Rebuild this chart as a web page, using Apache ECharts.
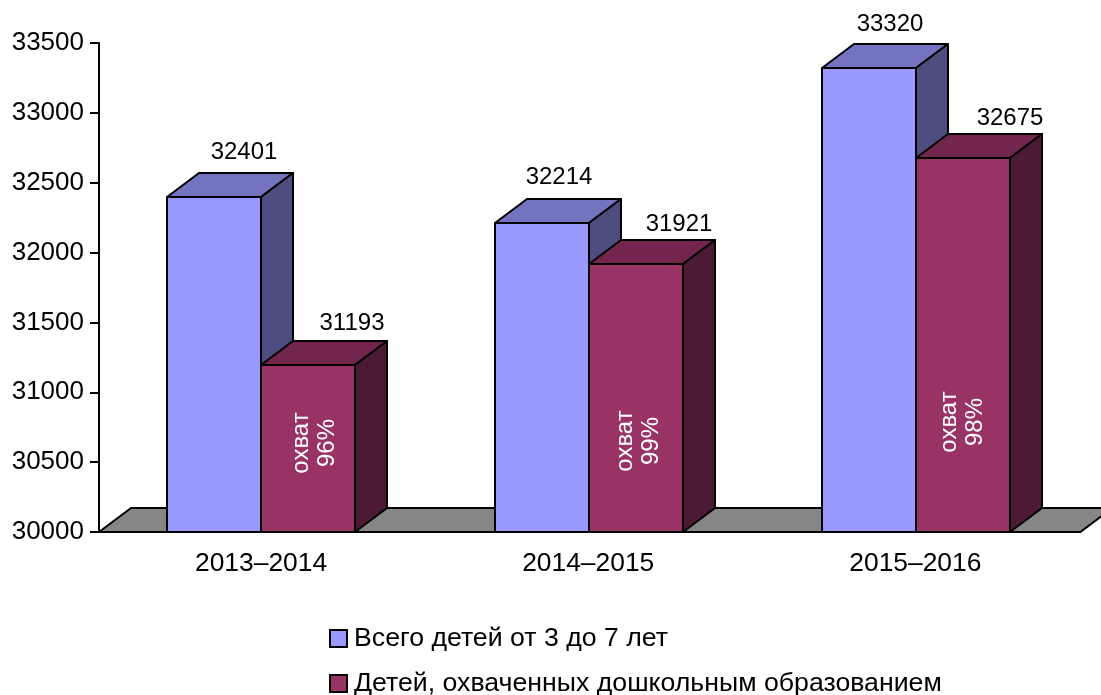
<!DOCTYPE html>
<html>
<head>
<meta charset="utf-8">
<style>
  html, body { margin: 0; padding: 0; background: #fff; }
  #chart { width: 1101px; height: 695px; }
</style>
<script src="https://cdn.jsdelivr.net/npm/echarts@6/dist/echarts.min.js"></script>
</head>
<body>
<div id="chart"></div>
<script>
const categories = ['2013–2014', '2014–2015', '2015–2016']
const seriesNames = ['Всего детей от 3 до 7 лет', 'Детей, охваченных дошкольным образованием']
const totalChildren = [32401, 32214, 33320]
const coveredChildren = [31193, 31921, 32675]
const coverageLabels = ['96%', '99%', '98%']
const yTicks = { min: 30000, max: 33500, interval: 500 }

// box look
const DEPTH_X = 32
const DEPTH_Y = 24
const BAR_W = 94
const FONT = '"Liberation Sans", Arial, sans-serif'

// hand-placed labels, the same way they sit on the original
const totalLabelShift = [[30, -21], [17, -22], [21, -20]]
const coveredLabelShift = [[44, -18], [43, -16], [47, -16]]
const coverageShift = [[6, -89], [2, -91], [-1, -110]]

function poly(points, fill) {
  return {
    type: 'polygon',
    shape: { points },
    style: { fill, stroke: '#000', lineWidth: 2, lineJoin: 'round' }
  }
}

function box(left, top, bottom, colors) {
  const right = left + BAR_W
  return [
    poly([[left, top], [right, top], [right, bottom], [left, bottom]], colors.front),
    poly([[left, top], [left + DEPTH_X, top - DEPTH_Y], [right + DEPTH_X, top - DEPTH_Y], [right, top]], colors.top),
    poly([[right, top], [right + DEPTH_X, top - DEPTH_Y], [right + DEPTH_X, bottom - DEPTH_Y], [right, bottom]], colors.side)
  ]
}

function barSeries(name, values, colors, side, labelShift, inner) {
  return {
    name,
    type: 'custom',
    coordinateSystem: 'cartesian2d',
    itemStyle: { color: colors.front },
    encode: { x: 0, y: 1 },
    data: values.map((v, i) => [i, v]),
    z: 3 + side,
    clip: false,
    renderItem(params, api) {
      const i = api.value(0)
      const val = api.value(1)
      const topPt = api.coord([i, val])
      const basePt = api.coord([i, yTicks.min])
      const left = Math.round(topPt[0] - 95.15) + side * BAR_W
      const children = box(left, Math.round(topPt[1]), Math.round(basePt[1]), colors)
      const shift = labelShift[i]
      children.push({
        type: 'text',
        x: left + BAR_W / 2 + shift[0],
        y: Math.round(topPt[1]) - DEPTH_Y + shift[1],
        style: { text: String(val), fill: '#000', font: '24px ' + FONT, align: 'center', verticalAlign: 'middle' }
      })
      if (inner) {
        const s = coverageShift[i]
        children.push({
          type: 'text',
          x: left + BAR_W / 2 + s[0],
          y: Math.round(basePt[1]) + s[1],
          rotation: Math.PI / 2,
          style: {
            text: 'охват\n' + inner[i],
            fill: '#fff',
            font: '24px ' + FONT,
            lineHeight: 26,
            align: 'center',
            verticalAlign: 'middle'
          }
        })
      }
      return { type: 'group', children }
    }
  }
}

function legendRow(name, top) {
  return {
    orient: 'vertical',
    left: 324,
    top,
    itemWidth: 17,
    itemHeight: 17,
    icon: 'rect',
    selectedMode: false,
    itemStyle: { borderColor: '#000', borderWidth: 2 },
    textStyle: { color: '#000', fontSize: 26.7, fontFamily: FONT, padding: [0, 0, 0, 2] },
    data: [name]
  }
}

const myChart = echarts.init(document.getElementById('chart'))
const option = {
  animation: false,
  backgroundColor: '#fff',
  grid: { left: 99, right: 20.6, top: 43, bottom: 163 },
  legend: [legendRow(seriesNames[0], 620), legendRow(seriesNames[1], 665)],
  xAxis: {
    type: 'category',
    data: categories,
    axisLine: { lineStyle: { color: '#000', width: 2 } },
    axisTick: { length: 9, lineStyle: { color: '#000', width: 2 } },
    axisLabel: { color: '#000', fontSize: 26.4, fontFamily: FONT, margin: 19, padding: [0, 3, 0, 0] }
  },
  yAxis: {
    type: 'value',
    min: yTicks.min,
    max: yTicks.max,
    interval: yTicks.interval,
    splitLine: { show: false },
    axisLine: { show: true, lineStyle: { color: '#000', width: 2 } },
    axisTick: { show: true, length: 9, lineStyle: { color: '#000', width: 2 } },
    axisLabel: { color: '#000', fontSize: 26, fontFamily: FONT, margin: 15, padding: [4, 0, 0, 0], formatter: v => String(v) }
  },
  series: [
    {
      // grey floor under the boxes
      type: 'custom',
      coordinateSystem: 'cartesian2d',
      data: [[0, yTicks.min]],
      encode: { x: 0, y: 1 },
      silent: true,
      z: 1,
      clip: false,
      renderItem(params) {
        const g = params.coordSys
        const b = g.y + g.height
        return poly([
          [g.x, b],
          [g.x + DEPTH_X, b - DEPTH_Y],
          [g.x + g.width + DEPTH_X, b - DEPTH_Y],
          [g.x + g.width, b]
        ], '#868686')
      }
    },
    barSeries(seriesNames[0], totalChildren,
      { front: '#9999ff', top: '#7373bf', side: '#4d4d80' }, 0, totalLabelShift),
    barSeries(seriesNames[1], coveredChildren,
      { front: '#993366', top: '#73264d', side: '#4d1a33' }, 1, coveredLabelShift, coverageLabels)
  ]
}
myChart.setOption(option)
</script>
</body>
</html>
